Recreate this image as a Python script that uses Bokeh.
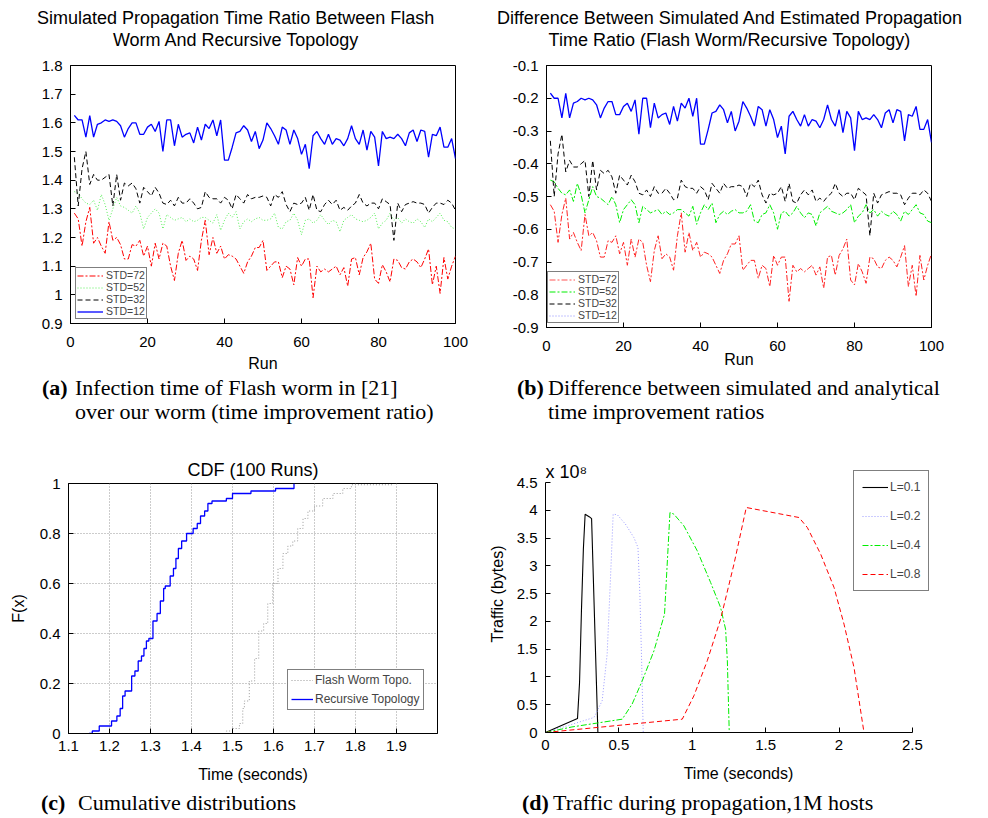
from bokeh.plotting import figure
from bokeh.models import Title, Legend, LegendItem, FixedTicker, PrintfTickFormatter, Div, Range1d, Label
from bokeh.layouts import column, row
from bokeh.embed import file_html
from bokeh.resources import INLINE

# ---------------- data ----------------
runs = list(range(1, 101))
std_labels = ["STD=72", "STD=52", "STD=32", "STD=12"]

ratio_std12 = [1.626,1.61,1.61,1.55,1.625,1.55,1.595,1.60,1.61,1.605,
               1.61,1.605,1.59,1.55,1.58,1.60,1.60,1.56,1.56,1.585,
               1.595,1.57,1.605,1.50,1.61,1.61,1.52,1.595,1.55,1.56,
               1.565,1.53,1.585,1.54,1.595,1.58,1.61,1.555,1.61,1.47,
               1.47,1.515,1.565,1.57,1.59,1.575,1.535,1.57,1.51,1.54,
               1.60,1.58,1.555,1.525,1.585,1.575,1.525,1.575,1.545,1.49,
               1.525,1.44,1.555,1.57,1.545,1.525,1.56,1.525,1.545,1.54,
               1.52,1.545,1.59,1.545,1.525,1.575,1.505,1.57,1.55,1.45,
               1.57,1.545,1.55,1.545,1.56,1.545,1.52,1.565,1.575,1.535,
               1.575,1.57,1.48,1.56,1.555,1.585,1.515,1.515,1.545,1.475]
ratio_std32 = [1.48,1.31,1.44,1.50,1.385,1.42,1.40,1.40,1.41,1.42,
               1.31,1.42,1.33,1.39,1.38,1.39,1.37,1.32,1.375,1.36,
               1.345,1.375,1.355,1.32,1.315,1.33,1.31,1.34,1.32,1.32,
               1.335,1.32,1.30,1.305,1.36,1.34,1.335,1.335,1.32,1.34,
               1.33,1.30,1.35,1.335,1.32,1.35,1.335,1.34,1.34,1.345,
               1.34,1.31,1.35,1.34,1.36,1.315,1.29,1.32,1.315,1.32,
               1.34,1.295,1.35,1.295,1.29,1.315,1.33,1.315,1.33,1.295,
               1.305,1.295,1.31,1.32,1.35,1.32,1.31,1.32,1.32,1.30,
               1.335,1.325,1.315,1.19,1.32,1.29,1.315,1.32,1.325,1.32,
               1.32,1.315,1.285,1.305,1.32,1.32,1.315,1.33,1.32,1.295]
ratio_std52 = [1.36,1.355,1.335,1.32,1.315,1.33,1.295,1.35,1.315,1.26,
               1.30,1.34,1.31,1.305,1.295,1.285,1.31,1.285,1.23,1.27,
               1.285,1.30,1.285,1.23,1.28,1.27,1.26,1.265,1.27,1.255,
               1.265,1.255,1.26,1.27,1.27,1.26,1.25,1.28,1.225,1.26,
               1.285,1.27,1.29,1.23,1.255,1.265,1.255,1.265,1.27,1.26,
               1.26,1.265,1.285,1.235,1.23,1.255,1.26,1.285,1.26,1.21,
               1.26,1.265,1.25,1.26,1.28,1.26,1.245,1.26,1.255,1.22,
               1.26,1.27,1.28,1.265,1.26,1.255,1.26,1.27,1.285,1.23,
               1.25,1.26,1.285,1.26,1.27,1.25,1.265,1.255,1.25,1.265,
               1.255,1.235,1.265,1.255,1.27,1.285,1.26,1.255,1.235,1.23]
ratio_std72 = [1.285,1.265,1.17,1.255,1.305,1.18,1.20,1.17,1.145,1.255,
               1.19,1.20,1.175,1.125,1.125,1.175,1.17,1.19,1.135,1.17,
               1.10,1.18,1.125,1.18,1.17,1.10,1.05,1.145,1.19,1.12,
               1.135,1.125,1.085,1.19,1.26,1.14,1.20,1.145,1.17,1.125,
               1.14,1.135,1.125,1.10,1.075,1.115,1.135,1.165,1.165,1.19,
               1.085,1.10,1.115,1.115,1.06,1.10,1.09,1.035,1.13,1.10,
               1.125,1.125,0.99,1.10,1.08,1.09,1.08,1.09,1.10,1.07,
               1.095,1.03,1.125,1.13,1.07,1.13,1.15,1.18,1.055,1.04,
               1.105,1.08,1.045,1.125,1.12,1.095,1.09,1.115,1.125,1.115,
               1.095,1.125,1.16,1.035,1.10,1.005,1.13,1.055,1.10,1.135]
# estimated (analytical) ratio per STD, used for panel (b): simulated - estimated
estimated_ratio = {"STD=72": 1.81, "STD=52": 1.81, "STD=32": 1.81, "STD=12": 1.81}

# panel (c): CDF knots (time in seconds, F after the step)
recursive_t = [1.150,1.158,1.175,1.205,1.218,1.226,1.232,1.238,1.254,1.262,1.270,1.278,1.284,1.290,
               1.296,1.306,1.316,1.324,1.332,1.336,1.348,1.356,1.362,1.368,1.376,1.388,1.404,1.414,
               1.422,1.432,1.440,1.450,1.485,1.500,1.545,1.605,1.650]
recursive_F = [0.00,0.01,0.03,0.05,0.07,0.10,0.15,0.17,0.23,0.25,0.29,0.31,0.34,0.37,
               0.38,0.45,0.48,0.53,0.58,0.59,0.63,0.66,0.70,0.74,0.77,0.80,0.82,0.84,
               0.87,0.89,0.92,0.93,0.94,0.96,0.97,0.98,1.00]
flash_t = [1.476,1.485,1.500,1.517,1.525,1.529,1.541,1.554,1.564,1.576,1.586,1.598,1.611,1.623,
           1.635,1.647,1.659,1.672,1.684,1.700,1.720,1.745,1.769,1.790,1.890]
flash_F = [0.00,0.01,0.02,0.04,0.10,0.13,0.21,0.30,0.41,0.44,0.52,0.60,0.66,0.72,
           0.75,0.77,0.82,0.86,0.89,0.91,0.94,0.96,0.98,0.995,0.995]

# panel (d): traffic (x 10^8 bytes) over time (s)
t_L01 = [0.0,0.218,0.232,0.245,0.258,0.270,0.300,0.314,0.357]
v_L01 = [0.0,0.25,0.90,2.20,3.30,3.93,3.88,3.85,0.0]
t_L02 = [0.0,0.330,0.386,0.420,0.443,0.461,0.489,0.545,0.602,0.630,0.643,0.655,0.666]
v_L02 = [0.0,0.27,0.57,1.41,2.79,3.93,3.92,3.75,3.51,3.33,2.49,1.29,0.0]
t_L04 = [0.0,0.180,0.523,0.590,0.659,0.739,0.811,0.848,0.875,0.943,1.034,1.125,1.193,1.227,1.239,1.252]
v_L04 = [0.0,0.10,0.24,0.51,0.93,1.47,2.13,3.96,3.93,3.72,3.27,2.70,2.25,1.86,1.29,0.0]
t_L08 = [0.0,0.932,1.011,1.102,1.193,1.284,1.368,1.727,1.784,1.875,1.966,2.034,2.102,2.170]
v_L08 = [0.0,0.24,0.66,1.29,2.04,3.03,4.05,3.87,3.69,3.21,2.61,1.95,1.17,0.0]

ticks_a = [0.9,1.0,1.1,1.2,1.3,1.4,1.5,1.6,1.7,1.8]
ticks_b = [-0.9,-0.8,-0.7,-0.6,-0.5,-0.4,-0.3,-0.2,-0.1]
ticks_run = [0,20,40,60,80,100]
ticks_c_x = [1.1,1.2,1.3,1.4,1.5,1.6,1.7,1.8,1.9]
ticks_c_y = [0,0.2,0.4,0.6,0.8,1.0]
ticks_d_x = [0,0.5,1.0,1.5,2.0,2.5]
ticks_d_y = [0,0.5,1.0,1.5,2.0,2.5,3.0,3.5,4.0,4.5]

title_a = ["Simulated Propagation Time Ratio Between Flash", "Worm And Recursive Topology"]
title_b = ["Difference Between Simulated And Estimated Propagation",
           "Time Ratio (Flash Worm/Recursive Topology)"]

SANS = "Liberation Sans"
SERIF = "Liberation Serif"
NAN = float("nan")


def style(p, outline=True, tick_fs="15px", lab_fs="16px"):
    for ax in (p.xaxis[0], p.yaxis[0]):
        ax.major_tick_in = 5
        ax.major_tick_out = 0
        ax.minor_tick_line_color = None
        ax.major_label_text_font = SANS
        ax.major_label_text_font_size = tick_fs
        ax.major_label_text_color = "black"
        ax.axis_label_text_font = SANS
        ax.axis_label_text_font_size = lab_fs
        ax.axis_label_text_font_style = "normal"
        ax.axis_label_text_color = "black"
        ax.axis_line_color = "black"
        ax.major_tick_line_color = "black"
        ax.formatter = PrintfTickFormatter(format="%g")
    p.yaxis[0].major_label_standoff = 8
    p.xgrid.visible = False
    p.ygrid.visible = False
    p.outline_line_color = "black" if outline else None
    p.outline_line_width = 1
    p.background_fill_color = "white"
    p.border_fill_color = "white"
    p.frame_align = False


def title_div(lines, width, height, pad_left, pad_top):
    html = (f'<div style="font-family:\'{SANS}\';font-size:18px;line-height:22px;text-align:center;'
            f'padding-top:{pad_top}px;padding-left:{pad_left}px;color:black;white-space:nowrap;">'
            + "<br>".join(lines) + '</div>')
    return Div(text=html, width=width, height=height, margin=(0, 0, 0, 0))


def small_legend(p, items, loc):
    lg = Legend(items=items, location=loc, label_text_font=SANS, label_text_font_size="10.5px",
                label_text_line_height=0.9,
                glyph_width=26, glyph_height=9, label_height=9, spacing=0, padding=1, margin=0,
                label_standoff=3, border_line_color="black", border_line_width=1.5,
                background_fill_alpha=1.0)
    p.add_layout(lg, "center")


# ---------------- panel (a) ----------------
pa = figure(width=488, height=322, output_backend="svg", toolbar_location=None, title=None,
            x_range=Range1d(0, 100), y_range=Range1d(0.9, 1.8),
            min_border_left=70, min_border_right=33, min_border_top=13, min_border_bottom=47)
style(pa)
pa.xaxis.ticker = FixedTicker(ticks=ticks_run)
pa.yaxis.ticker = FixedTicker(ticks=ticks_a)
pa.xaxis.axis_label = "Run"
pa.xaxis.major_label_standoff = 13
pa.xaxis.axis_label_standoff = 5
ra72 = pa.line(runs, ratio_std72, line_color="#ff0000", line_dash="6 2 2 2", line_width=1)
ra52 = pa.line(runs, ratio_std52, line_color="#55ee55", line_dash="1 2", line_width=1)
ra32 = pa.line(runs, ratio_std32, line_color="black", line_dash="5 3", line_width=1)
ra12 = pa.line(runs, ratio_std12, line_color="#0000ff", line_width=1.3)
small_legend(pa, [LegendItem(label=std_labels[0], renderers=[ra72]),
                  LegendItem(label=std_labels[1], renderers=[ra52]),
                  LegendItem(label=std_labels[2], renderers=[ra32]),
                  LegendItem(label=std_labels[3], renderers=[ra12])], (5, 4))

# ---------------- panel (b) ----------------
diff72 = [v - estimated_ratio["STD=72"] for v in ratio_std72]
diff52 = [v - estimated_ratio["STD=52"] for v in ratio_std52]
diff32 = [v - estimated_ratio["STD=32"] for v in ratio_std32]
diff12 = [v - estimated_ratio["STD=12"] for v in ratio_std12]

pb = figure(width=492, height=322, output_backend="svg", toolbar_location=None, title=None,
            x_range=Range1d(0, 100), y_range=Range1d(-0.9, -0.1),
            min_border_left=58, min_border_right=49, min_border_top=13, min_border_bottom=47)
style(pb)
pb.xaxis.ticker = FixedTicker(ticks=ticks_run)
pb.yaxis.ticker = FixedTicker(ticks=ticks_b)
pb.xaxis.axis_label = "Run"
pb.xaxis.major_label_standoff = 13
pb.xaxis.axis_label_standoff = -3
pb.line(runs, diff72, line_color="#ff2222", line_dash="6 2 2 2", line_width=1)
pb.line(runs, diff52, line_color="#00ee00", line_dash="6 2 2 2", line_width=1)
pb.line(runs, diff32, line_color="black", line_dash="5 3", line_width=1)
pb.line(runs, diff12, line_color="#0000ff", line_width=1.3)
lb72 = pb.line(x=[NAN, NAN], y=[NAN, NAN], line_color="#ff5555", line_dash="6 2 2 2", line_width=1)
lb52 = pb.line(x=[NAN, NAN], y=[NAN, NAN], line_color="#00ee00", line_dash="6 2 2 2", line_width=1)
lb32 = pb.line(x=[NAN, NAN], y=[NAN, NAN], line_color="black", line_dash="5 3", line_width=1)
lb12 = pb.line(x=[NAN, NAN], y=[NAN, NAN], line_color="#8888ff", line_dash="1 2", line_width=1)
small_legend(pb, [LegendItem(label=std_labels[0], renderers=[lb72]),
                  LegendItem(label=std_labels[1], renderers=[lb52]),
                  LegendItem(label=std_labels[2], renderers=[lb32]),
                  LegendItem(label=std_labels[3], renderers=[lb12])], (1, 4))

# ---------------- panel (c) ----------------
pc = figure(width=480, height=348, output_backend="svg", toolbar_location=None, title=None,
            x_range=Range1d(1.1, 2.0), y_range=Range1d(0, 1),
            min_border_left=68, min_border_right=43, min_border_top=45, min_border_bottom=53)
style(pc)
pc.xaxis.ticker = FixedTicker(ticks=ticks_c_x)
pc.yaxis.ticker = FixedTicker(ticks=ticks_c_y)
pc.xaxis.axis_label = "Time (seconds)"
pc.yaxis.axis_label = "F(x)"
pc.xaxis.major_label_standoff = 7
pc.xaxis.axis_label_standoff = 12
pc.yaxis.axis_label_standoff = 10
pc.xgrid.visible = True
pc.ygrid.visible = True
for g in (pc.xgrid[0], pc.ygrid[0]):
    g.grid_line_color = "#999999"
    g.grid_line_dash = "1 2"
    g.grid_line_width = 1
pc.add_layout(Title(text="CDF (100 Runs)", align="center", text_font=SANS, text_font_size="18px",
                    text_font_style="normal", text_color="black", standoff=8), "above")
rc_f = pc.step(flash_t, flash_F, mode="after", line_color="#999999", line_dash="1 2", line_width=1)
rc_r = pc.step(recursive_t, recursive_F, mode="after", line_color="#0000ff", line_width=1.3)
lgc = Legend(items=[LegendItem(label="Flash Worm Topo.", renderers=[rc_f]),
                    LegendItem(label="Recursive Topology", renderers=[rc_r])],
             location=(219, 23), label_text_font=SANS, label_text_font_size="12px",
             glyph_width=22, glyph_height=14, label_height=14, spacing=5, padding=3, margin=0,
             label_standoff=2, border_line_color="black", border_line_width=1.5)
pc.add_layout(lgc, "center")

# ---------------- panel (d) ----------------
# the plot area reaches a little beyond the 2.5 / 4.5 axis ends (legend and "x 10^8" sit there)
pd = figure(width=500, height=348, output_backend="svg", toolbar_location=None, title=None,
            x_range=Range1d(0, 2.63), y_range=Range1d(0, 4.986),
            min_border_left=65, min_border_right=49, min_border_top=17, min_border_bottom=54)
style(pd, outline=False)
pd.xaxis.ticker = FixedTicker(ticks=ticks_d_x)
pd.yaxis.ticker = FixedTicker(ticks=ticks_d_y)
pd.xaxis.bounds = (0, 2.5)
pd.yaxis.bounds = (0, 4.5)
pd.xaxis.axis_label = "Time (seconds)"
pd.yaxis.axis_label = "Traffic (bytes)"
pd.xaxis.major_label_standoff = 7
pd.xaxis.axis_label_standoff = 12
pd.yaxis.axis_label_standoff = 8
pd.add_layout(Label(x=0, y=4.5, text="x 10\u2078", text_font=SANS, text_font_size="18px",
                    text_align="left", text_baseline="bottom", x_offset=0, y_offset=1,
                    text_color="black"))
rd1 = pd.line(t_L01, v_L01, line_color="black", line_width=1.1)
rd2 = pd.line(t_L02, v_L02, line_color="#9999ff", line_dash="1 2", line_width=1)
rd4 = pd.line(t_L04, v_L04, line_color="#00ee00", line_dash="6 2 2 2", line_width=1)
rd8 = pd.line(t_L08, v_L08, line_color="#ff0000", line_dash="5 3", line_width=1)
lgd = Legend(items=[LegendItem(label="L=0.1", renderers=[rd1]),
                    LegendItem(label="L=0.2", renderers=[rd2]),
                    LegendItem(label="L=0.4", renderers=[rd4]),
                    LegendItem(label="L=0.8", renderers=[rd8])],
             location=(308, 141), label_text_font=SANS, label_text_font_size="12px",
             glyph_width=26, glyph_height=16, label_height=16, spacing=13, padding=8, margin=0,
             label_standoff=2, border_line_color="black", border_line_width=1.5)
pd.add_layout(lgd, "center")

# ---------------- captions ----------------
def caption(label, lines, width, height, pad_left, pad_top, label_w):
    body = "<br>".join(lines)
    html = (f'<div style="display:flex;padding-left:{pad_left}px;padding-top:{pad_top}px;'
            f'font-family:\'{SERIF}\';font-size:22px;line-height:24px;color:black;white-space:nowrap;">'
            f'<div style="width:{label_w}px;font-weight:bold;">{label}</div><div>{body}</div></div>')
    return Div(text=html, width=width, height=height, margin=(0, 0, 0, 0))

ttl_a = title_div(title_a, 488, 52, 37, 7)
ttl_b = title_div(title_b, 492, 52, 9, 7)
cap_a = caption("(a)", ["Infection time of Flash worm in [21]",
                        "over our worm (time improvement ratio)"], 488, 64, 42, 2, 33)
cap_b = caption("(b)", ["Difference between simulated and analytical",
                        "time improvement ratios"], 492, 64, 29, 2, 31)
cap_c = caption("(c)", ["Cumulative distributions"], 480, 30, 41, 5, 37)
cap_d = caption("(d)", ["Traffic during propagation,1M hosts"], 500, 30, 42, 5, 31)

layout = column(row(ttl_a, ttl_b), row(pa, pb), row(cap_a, cap_b), row(pc, pd), row(cap_c, cap_d))

open("out.html", "w").write(file_html(layout, INLINE))
